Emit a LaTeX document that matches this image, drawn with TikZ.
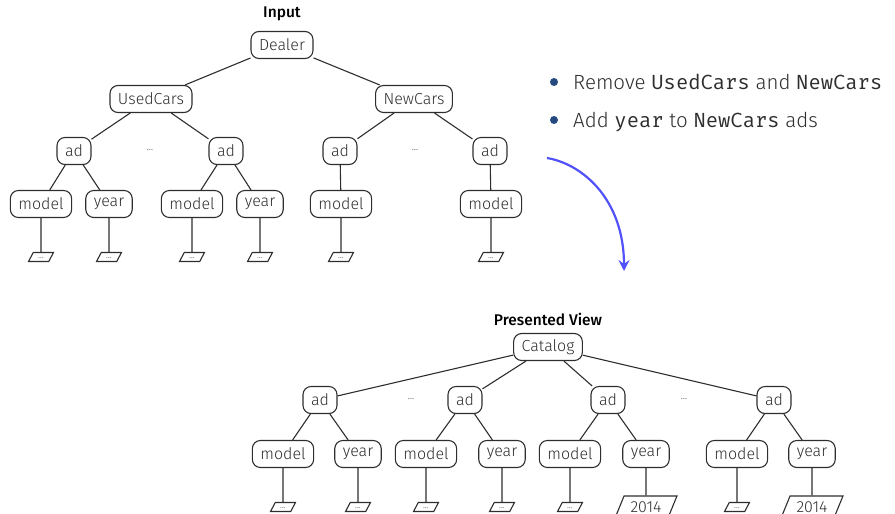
\documentclass[tikz,border=0pt]{standalone}
\usepackage{fontspec}
\IfFontExistsTF{Fira Sans Light}
	{\setmainfont{Fira Sans Light}[BoldFont={Fira Sans Medium}]}
	{\setmainfont{Fira Sans}}
\IfFontExistsTF{Fira Mono}
	{\setmonofont{Fira Mono}}
	{\setmonofont{DejaVu Sans Mono}}
\usepackage{tikz}
\usetikzlibrary{
	positioning,
	shapes.geometric,
	arrows.meta
}

\definecolor{ink}{HTML}{2E2E2E}
\definecolor{flowblue}{RGB}{82,82,250}
\definecolor{dotblue}{RGB}{35,75,125}

\tikzset{
	elem/.style={draw=ink,text=ink,line width=1.1pt,rounded corners=8pt,
		minimum height=27pt,inner xsep=8pt,inner ysep=4pt,
		font=\fontsize{16}{16}\selectfont},
	val/.style={draw=ink,text=ink,line width=1.1pt,trapezium,
		trapezium left angle=60,trapezium right angle=120,trapezium stretches=true,
		minimum width=25pt,minimum height=9pt,inner sep=0pt,
		text height=3pt,text depth=0pt,
		font=\fontsize{9}{9}\selectfont},
	year val/.style={val,minimum width=62pt,minimum height=22pt,
		text height=11pt,text depth=0pt,
		font=\fontsize{16}{16}\selectfont},
	heading/.style={text=black,font=\fontsize{15.5}{15.5}\selectfont\bfseries},
	gap/.style={text=ink,inner sep=0pt,font=\fontsize{10}{10}\selectfont},
	edge/.style={draw=ink,line width=1.1pt},
	dot/.style={circle,fill=dotblue,inner sep=0pt,minimum size=8pt},
	point/.style={text=ink,inner sep=0pt,font=\fontsize{20.5}{20.5}\selectfont}
}

\begin{document}
\begin{tikzpicture}[x=1pt,y=-1pt]
	\useasboundingbox (0,0) rectangle (895,514);

	% input tree
	\node[heading] (input) at (282,14) {Input};
	\node[elem] (dealer) at (282,45) {Dealer};
	\node[elem] (uc) at (151,99) {UsedCars};
	\node[elem] (nc) at (414,99) {NewCars};

	\node[elem] (a1) at (74,151)  {ad};
	\node[gap]       at (150,150) {\ldots};
	\node[elem] (a2) at (226,151) {ad};
	\node[elem] (a3) at (340,151) {ad};
	\node[gap]       at (415,150) {\ldots};
	\node[elem] (a4) at (490,151) {ad};

	\node[elem] (m1) at (41,204)  {model};
	\node[elem] (y1) at (109,204) {year};
	\node[elem] (m2) at (192,204) {model};
	\node[elem] (y2) at (260,204) {year};
	\node[elem] (m3) at (341,204) {model};
	\node[elem] (m4) at (491,204) {model};

	\foreach \n/\x in {m1/41,y1/109,m2/192,y2/260,m3/341,m4/491}
		\node[val] (v\n) at (\x,257) {\ldots};

	\draw[edge]
		(dealer) -- (uc)  (dealer) -- (nc)
		(uc) -- (a1)  (uc) -- (a2)
		(nc) -- (a3)  (nc) -- (a4)
		(a1) -- (m1)  (a1) -- (y1)
		(a2) -- (m2)  (a2) -- (y2)
		(a3) -- (m3)  (a4) -- (m4);
	\foreach \n in {m1,y1,m2,y2,m3,m4}
		\draw[edge] (\n.south) -- (v\n.north);

	% changes
	\node[dot] (d1) at (554,82) {};
	\node[point,anchor=base west] (p1) at (573,89)
		{Remove \texttt{UsedCars} and \texttt{NewCars}};
	\node[dot] (d2) at (554,120) {};
	\node[point,anchor=base west] (p2) at (573,127)
		{Add \texttt{year} to \texttt{NewCars} ads};

	\coordinate (from) at (547,158);
	\coordinate (to) at (624,271);
	\draw[flowblue,line width=2.2pt,-{Stealth[length=11pt,width=11pt,inset=4pt]}]
		(from) .. controls (583,164) and (624,200) .. (to);

	% presented view
	\node[heading] (view) at (548,319) {Presented View};
	\node[elem] (cat) at (548,347) {Catalog};

	\node[elem] (b1) at (320,400) {ad};
	\node[gap]       at (411,399) {\ldots};
	\node[elem] (b2) at (465,400) {ad};
	\node[elem] (b3) at (608,400) {ad};
	\node[gap]       at (684,399) {\ldots};
	\node[elem] (b4) at (774,400) {ad};

	\node[elem] (bm1) at (283,454) {model};
	\node[elem] (by1) at (358,454) {year};
	\node[elem] (bm2) at (426,454) {model};
	\node[elem] (by2) at (502,454) {year};
	\node[elem] (bm3) at (570,454) {model};
	\node[elem] (by3) at (646,454) {year};
	\node[elem] (bm4) at (737,454) {model};
	\node[elem] (by4) at (812,454) {year};

	\foreach \n/\x in {bm1/283,by1/358,bm2/426,by2/502,bm3/570,bm4/737}
		\node[val] (v\n) at (\x,507) {\ldots};
	\foreach \n/\x in {by3/646,by4/812}
		\node[year val] (v\n) at (\x,507) {2014};

	\draw[edge]
		(cat) -- (b1)  (cat) -- (b2)  (cat) -- (b3)  (cat) -- (b4)
		(b1) -- (bm1)  (b1) -- (by1)
		(b2) -- (bm2)  (b2) -- (by2)
		(b3) -- (bm3)  (b3) -- (by3)
		(b4) -- (bm4)  (b4) -- (by4);
	\foreach \n in {bm1,by1,bm2,by2,bm3,by3,bm4,by4}
		\draw[edge] (\n.south) -- (v\n.north);
\end{tikzpicture}
\end{document}
